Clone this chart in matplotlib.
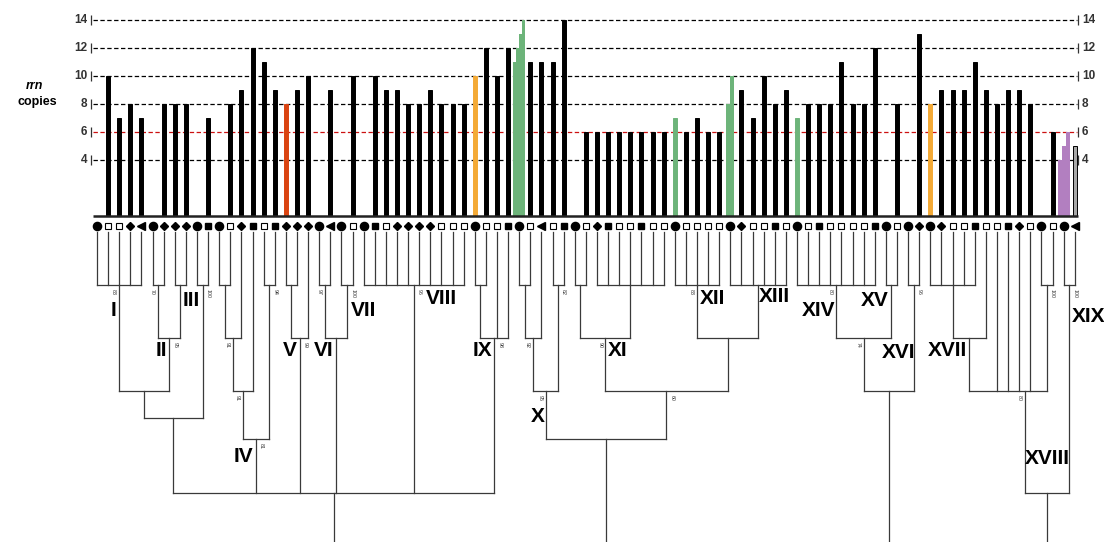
import matplotlib
matplotlib.use("Agg")
import matplotlib.pyplot as plt

plt.rcParams['font.family'] = ['Liberation Sans', 'DejaVu Sans']

# symbol under each strain: o circle, s open square, S filled square, D diamond, < triangle
symbols = ["o", "s", "s", "D", "<", "o", "D", "D", "D", "o",
           "S", "o", "s", "D", "S", "s", "S", "D", "D", "D",
           "o", "<", "o", "s", "o", "S", "s", "D", "D", "D",
           "D", "s", "s", "s", "o", "s", "s", "S", "o", "s",
           "<", "s", "S", "o", "s", "D", "S", "s", "s", "S",
           "s", "s", "o", "s", "s", "s", "s", "o", "D", "s",
           "s", "S", "s", "o", "s", "S", "s", "s", "s", "s",
           "S", "o", "s", "o", "D", "o", "D", "s", "s", "S",
           "s", "s", "S", "D", "s", "o", "s", "o", "<"]

# rrn copies per strain (None = no bar)
copies = [None, 10, 7, 8, 7, None, 8, 8, 8, None,
          7, None, 8, 9, 12, 11, 9, 8, 9, 10,
          None, 9, None, 10, None, 10, 9, 9, 8, 8,
          9, 8, 8, 8, 10, 12, 10, 12, None, 11,
          11, 11, 14, None, 6, 6, 6, 6, 6, 6,
          6, 6, 7, 6, 7, 6, 6, None, 9, 7,
          10, 8, 9, 7, 8, 8, 8, 11, 8, 8,
          12, None, 8, None, 13, 8, 9, 9, 9, 11,
          9, 8, 9, 9, 8, None, 6, None, 5]

# strains with several values (stepped bars)
stepped = {38: [11, 12, 13, 14], 57: [8, 10], 87: [4, 5, 6]}

highlight = {17: "red", 34: "orange", 38: "green", 52: "green", 57: "green",
             63: "green", 75: "orange", 87: "purple", 88: "grey"}
palette = {"black": "#000000", "red": "#da4411", "orange": "#f4aa36",
           "green": "#6db47a", "purple": "#b27fc0", "grey": "#a8a8a8"}

yticks = [4, 6, 8, 10, 12, 14]

# dendrogram merges: (node, members, level)
tree = [
    ("n1", [0, 1, 2, 3, 4], 1),
    ("n2", [5, 6], 1),
    ("n3", [7, 8], 1),
    ("n4", ["n2", "n3"], 2),
    ("n5", [9, 10], 1),
    ("n6", ["n1", "n4"], 3),
    ("n7", ["n6", "n5"], 4),
    ("n8", [11, 12], 1),
    ("n9", ["n8", 13], 2),
    ("n10", ["n9", 14], 3),
    ("n11", [15, 16], 1),
    ("n12", ["n10", "n11"], 5),
    ("n13", [17, 18], 1),
    ("n14", ["n13", 19], 2),
    ("n15", [20, 21], 1),
    ("n16", [22, 23], 1),
    ("n17", ["n15", "n16"], 2),
    ("n18", list(range(24, 34)), 1),
    ("n19", [34, 35], 1),
    ("n20", ["n19", 36, 37], 2),
    ("n21", ["n7", "n12", "n14", "n17", "n18", "n20"], 6),
    ("n22", [38, 39], 1),
    ("n23", ["n22", 40], 2),
    ("n24", [41, 42], 1),
    ("n25", ["n23", "n24"], 3),
    ("n26", [43, 44], 1),
    ("n27", list(range(45, 52)), 1),
    ("n28", ["n26", "n27"], 2),
    ("n29", list(range(52, 57)), 1),
    ("n30", list(range(57, 63)), 1),
    ("n31", ["n29", "n30"], 2),
    ("n32", ["n28", "n31"], 3),
    ("n33", ["n25", "n32"], 5),
    ("n34", list(range(63, 71)), 1),
    ("n35", [71, 72], 1),
    ("n36", ["n34", "n35"], 2),
    ("n37", [73, 74], 1),
    ("n38", ["n36", "n37"], 3),
    ("n39", list(range(75, 80)), 1),
    ("n40", ["n39", 80], 2),
    ("n41", [85, 86], 1),
    ("n42", ["n40", 81, 82, 83, 84, "n41"], 3),
    ("n44", [87, 88], 1),
    ("n45", ["n42", "n44"], 6),
]
roots = ["n21", "n33", "n38", "n45"]

bootstrap = {"n1": 83, "n2": 70, "n4": 95, "n5": 100, "n9": 91, "n10": 91,
             "n11": 94, "n12": 81, "n14": 99, "n15": 97, "n16": 100, "n18": 96,
             "n20": 98, "n23": 92, "n24": 82, "n25": 95, "n28": 90, "n29": 83,
             "n32": 60, "n34": 80, "n36": 74, "n37": 96, "n41": 100, "n42": 80,
             "n44": 100}

clades = {"n1": "I", "n4": "II", "n5": "III", "n12": "IV", "n14": "V",
          "n17": "VI", "n16": "VII", "n18": "VIII", "n20": "IX", "n25": "X",
          "n28": "XI", "n29": "XII", "n30": "XIII", "n34": "XIV", "n35": "XV",
          "n36": "XVI", "n40": "XVII", "n45": "XVIII", "n44": "XIX"}

# ---- layout (pixels) ----
W, H = 1104, 542
X0, STEP = 97, 11.111          # pixel x of first strain, spacing
Y0, PX_UNIT = 216, 14.0        # pixel y of 0 copies, pixels per copy
levels = {1: 285, 2: 338, 3: 391, 4: 418, 5: 439, 6: 493}
leaf_top, tree_bottom = 232, 541
stem_override = {"n42": (1025 - X0) / STEP}
boot_side = {"n1": -1, "n2": -1, "n4": 1, "n5": 1, "n9": -1, "n10": -1, "n11": 1,
             "n12": 1, "n14": 1, "n15": -1, "n16": 1, "n18": 1, "n20": 1, "n23": -1,
             "n24": 1, "n25": -1, "n28": -1, "n29": -1, "n32": 1, "n34": -1,
             "n36": -1, "n37": 1, "n41": 1, "n42": -1, "n44": 1}
clade_pos = {"n1": ("right", -3, 25), "n4": ("right", -2, 13), "n5": ("right", -3, 16),
             "n12": ("right", -3, 17), "n14": ("right", -3, 12), "n17": ("right", -2, 12),
             "n16": ("left", 4, 26), "n18": ("left", 12, 13), "n20": ("right", -2, 12),
             "n25": ("right", -1, 25), "n28": ("left", 2, 13), "n29": ("left", 3, 13),
             "n30": ("left", 1, 12), "n34": ("right", -1, 25), "n35": ("right", -3, 15),
             "n36": ("left", 18, 14), "n40": ("right", -2, 12), "n45": ("center", 0, -35),
             "n44": ("left", 3, 32)}

xlim = (-X0 / STEP, (W - X0) / STEP)
n = len(symbols)

fig = plt.figure(figsize=(W / 100, H / 100), dpi=100)

# bottom axes in pixel rows, whole figure
axt = fig.add_axes([0, 0, 1, 1])
axt.set_xlim(*xlim)
axt.set_ylim(H, 0)
axt.axis("off")

# bar axes
top_px = 232
axb = fig.add_axes([0, 1 - top_px / H, 1, top_px / H])
axb.set_xlim(*xlim)
axb.set_ylim(-(top_px - Y0) / PX_UNIT, Y0 / PX_UNIT)
axb.axis("off")

# grid lines with end ticks
gx0, gx1 = (93 - X0) / STEP, (1077 - X0) / STEP
for v in yticks:
    c = "#cc1111" if v == 6 else "black"
    axb.plot([gx0, gx1], [v, v], color=c, lw=0.9, dashes=(3.5, 2), zorder=1)
    axb.plot([gx0 - 0.2, gx1 + 0.1], [v, v], ls="none", marker="|", ms=7,
             mew=0.9, color="#333333", zorder=1)
    axb.text(gx0 - 0.5, v, str(v), ha="right", va="center", fontsize=8.5,
             fontweight="bold", color="#333333")
    axb.text(gx1 + 0.45, v, str(v), ha="left", va="center", fontsize=8.5,
             fontweight="bold", color="#333333")
axb.plot([gx0, gx1 + 0.1], [0, 0], color="#222222", lw=1.8, zorder=3,
         solid_capstyle="butt")

# bars
for i, v in enumerate(copies):
    col = palette[highlight.get(i, "black")]
    if i in stepped:
        steps = stepped[i]
        w = min(0.36 * len(steps), 1.1) / len(steps)
        start = i - w * len(steps) / 2 + w / 2
        for k, s in enumerate(steps):
            axb.bar(start + k * w, s, width=w, color=col, lw=0, zorder=2)
    elif v is not None:
        ec = "black" if highlight.get(i) == "grey" else col
        axb.bar(i, v, width=0.36, color=col, edgecolor=ec, lw=0.7, zorder=2)

# strain symbols
ysym = -(226 - Y0) / PX_UNIT
for i, s in enumerate(symbols):
    if s == "s":
        axb.plot(i, ysym, marker="s", ms=5.0, mfc="white", mec="black", mew=0.8,
                 clip_on=False)
    elif s == "S":
        axb.plot(i, ysym, marker="s", ms=5.0, color="black", clip_on=False)
    elif s == "D":
        axb.plot(i, ysym, marker="D", ms=3.7, color="black", clip_on=False)
    elif s == "<":
        axb.plot(i, ysym, marker="<", ms=5.6, color="black", clip_on=False)
    else:
        axb.plot(i, ysym, marker="o", ms=5.9, color="black", clip_on=False)

# dendrogram
lc, lw = "#3a3a3a", 0.9
pos = {i: (i, leaf_top) for i in range(n)}
for name, members, lev in tree:
    y = levels[lev]
    xs = [pos[m][0] for m in members]
    for m in members:
        mx, my = pos[m]
        axt.plot([mx, mx], [my, y], color=lc, lw=lw)
    axt.plot([min(xs), max(xs)], [y, y], color=lc, lw=lw)
    pos[name] = (stem_override.get(name, (min(xs) + max(xs)) / 2), y)

for r in roots:
    x, y = pos[r]
    axt.plot([x, x], [y, tree_bottom], color=lc, lw=lw)

for node, val in bootstrap.items():
    x, y = pos[node]
    side = boot_side[node]
    axt.text(x + side * 0.5, y + 4, str(val), rotation=270, fontsize=3.8,
             ha="center", va="top", color="#333333")

for node, label in clades.items():
    x, y = pos[node]
    ha, dx, dy = clade_pos[node]
    axt.text(x + dx / STEP, y + dy, label, ha=ha, va="center", fontsize=15,
             fontweight="bold", color="black")

fig.text(34 / W, 1 - 86 / H, "rrn", style="italic", fontweight="bold",
         fontsize=9, ha="center", va="center")
fig.text(37 / W, 1 - 102 / H, "copies", fontweight="bold", fontsize=9,
         ha="center", va="center")

fig.savefig("out.png", dpi=100)
